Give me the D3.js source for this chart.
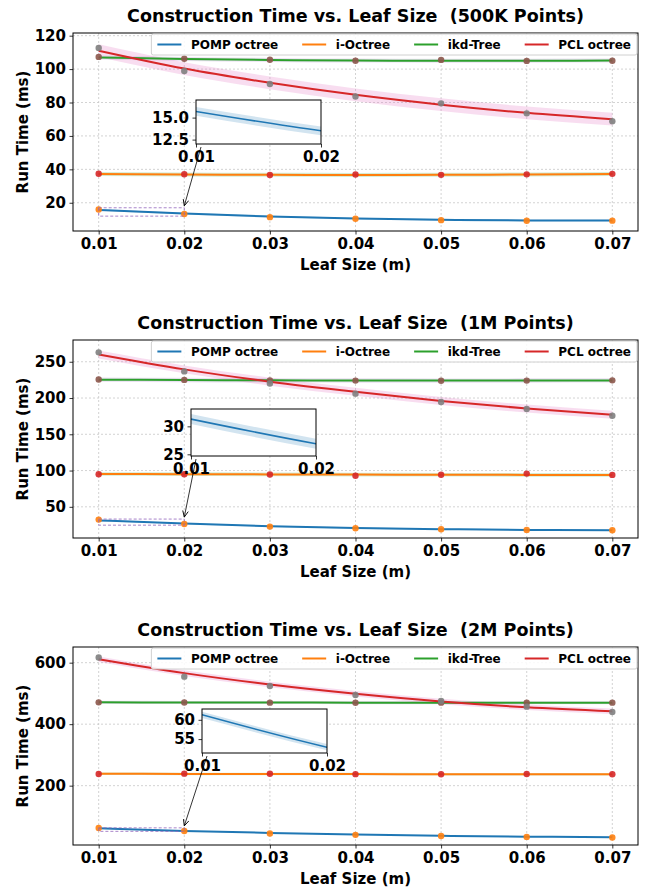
<!DOCTYPE html>
<html>
<head>
<meta charset="utf-8">
<script src="https://cdn.jsdelivr.net/npm/d3@7"></script>
<style>
  body { margin: 0; background: #fff; }
  svg text { font-family: "DejaVu Sans", sans-serif; font-weight: bold; fill: #000; white-space: pre; }
</style>
</head>
<body>
<div id="chart"></div>
<script>
// ---- data ----
const leafSizes = [0.01, 0.02, 0.03, 0.04, 0.05, 0.06, 0.07];
const seriesNames = ["POMP octree", "i-Octree", "ikd-Tree", "PCL octree"];

// 500K points: measured points and fitted curve
const pomp500kPts = [16.0, 13.3, 11.4, 10.4, 9.6, 9.2, 9.3];
const pomp500kFit = [15.7, 13.5, 11.8, 10.6, 9.8, 9.4, 9.4];
const iOct500kPts = [37.4, 37.1, 36.6, 36.9, 36.7, 37.0, 37.3];
const iOct500kFit = [37.2, 36.9, 36.7, 36.6, 36.7, 36.9, 37.2];
const ikd500kPts = [107.3, 106.2, 105.6, 105.0, 105.5, 104.9, 105.0];
const ikd500kFit = [107.0, 106.1, 105.5, 105.1, 105.0, 105.0, 105.1];
const pcl500kPts = [112.6, 98.9, 91.1, 83.6, 79.5, 73.5, 68.8];
const pcl500kFit = [111.0, 100.3, 91.8, 84.6, 78.7, 73.8, 70.0];
const band500k = [0.5, 1.2, 1.2, 3.8];

// 1M points
const pomp1mPts = [32.4, 26.2, 22.7, 20.5, 19.0, 18.2, 17.6];
const pomp1mFit = [31.3, 26.9, 23.3, 20.8, 19.2, 18.1, 17.6];
const iOct1mPts = [95.0, 95.0, 94.5, 92.8, 94.2, 95.8, 94.0];
const iOct1mFit = [95.2, 95.0, 94.7, 94.4, 94.2, 94.0, 93.8];
const ikd1mPts = [225.5, 225.0, 224.2, 224.0, 223.8, 224.0, 224.4];
const ikd1mFit = [225.3, 224.8, 224.4, 224.1, 224.0, 224.1, 224.3];
const pcl1mPts = [263.0, 236.7, 220.0, 206.0, 194.5, 185.0, 175.5];
const pcl1mFit = [260.0, 239.5, 222.5, 208.5, 196.0, 185.5, 177.0];
const band1m = [0.9, 2.5, 3.0, 5.5];

// 2M points
const pomp2mPts = [62.5, 52.5, 44.5, 40.0, 36.4, 33.3, 31.6];
const pomp2mFit = [61.3, 52.9, 46.2, 41.0, 37.0, 34.2, 32.5];
const iOct2mPts = [238.0, 239.0, 238.5, 237.5, 237.0, 238.0, 237.0];
const iOct2mFit = [238.5, 238.2, 237.9, 237.6, 237.4, 237.3, 237.2];
const ikd2mPts = [471.0, 470.5, 470.0, 469.5, 470.0, 470.0, 470.0];
const ikd2mFit = [471.0, 470.6, 470.3, 470.0, 469.8, 469.7, 469.7];
const pcl2mPts = [617.0, 554.5, 524.0, 495.0, 475.5, 457.0, 439.7];
const pcl2mFit = [611.0, 566.0, 529.0, 499.0, 474.0, 455.0, 442.0];
const band2m = [0.8, 4.0, 5.0, 9.0];

// axis ticks
const yTicks500k = [20, 40, 60, 80, 100, 120];
const yTicks1m = [50, 100, 150, 200, 250];
const yTicks2m = [200, 400, 600];
const insetTicks500k = [12.5, 15.0];
const insetTicks1m = [25, 30];
const insetTicks2m = [55, 60];

// ---- styles ----
const lineColors = ["#1f77b4", "#ff7f0e", "#2ca02c", "#d62728"];
const dotColors = ["#ff7f0e", "#d62728", "#8c564b", "#7f7f7f"];
const bandColors = ["#1f77b4", "#2ca02c", "#9467bd", "#e377c2"];

const W = 649, H = 888;
const plotLeft = 73, plotW = 565, plotH = 198;
const tickFont = "15px", labelFont = "15px", titleFont = "17.5px";

const panels = [
  {
    title: "Construction Time vs. Leaf Size  (500K Points)", top: 33,
    yDomain: [3.1, 121.6], yTicks: yTicks500k,
    pts: [pomp500kPts, iOct500kPts, ikd500kPts, pcl500kPts],
    fit: [pomp500kFit, iOct500kFit, ikd500kFit, pcl500kFit],
    band: band500k,
    inset: { x: 123, y: 67, w: 125, h: 44, yDomain: [12.0, 17.0], ticks: insetTicks500k, fmt: ".1f" }
  },
  {
    title: "Construction Time vs. Leaf Size  (1M Points)", top: 340,
    yDomain: [7, 280], yTicks: yTicks1m,
    pts: [pomp1mPts, iOct1mPts, ikd1mPts, pcl1mPts],
    fit: [pomp1mFit, iOct1mFit, ikd1mFit, pcl1mFit],
    band: band1m,
    inset: { x: 118, y: 69, w: 125, h: 47, yDomain: [24.7, 33.1], ticks: insetTicks1m, fmt: "d" }
  },
  {
    title: "Construction Time vs. Leaf Size  (2M Points)", top: 647,
    yDomain: [7, 651], yTicks: yTicks2m,
    pts: [pomp2mPts, iOct2mPts, ikd2mPts, pcl2mPts],
    fit: [pomp2mFit, iOct2mFit, ikd2mFit, pcl2mFit],
    band: band2m,
    inset: { x: 129, y: 62, w: 125, h: 44, yDomain: [51.4, 62.8], ticks: insetTicks2m, fmt: "d" }
  }
];

const svg = d3.select("#chart").append("svg")
  .attr("width", W)
  .attr("height", H);

const defs = svg.append("defs");
defs.append("marker")
  .attr("id", "arrowhead")
  .attr("viewBox", "0 0 8 8")
  .attr("refX", 7.5).attr("refY", 4)
  .attr("markerWidth", 7).attr("markerHeight", 7)
  .attr("markerUnits", "userSpaceOnUse")
  .attr("orient", "auto")
  .append("path")
  .attr("d", "M0.5,0.8 L7.5,4 L0.5,7.2")
  .attr("fill", "none")
  .attr("stroke", "#000")
  .attr("stroke-width", 1);

panels.forEach((p, pi) => drawPanel(p, pi));

function styleAxis(a) {
  a.select(".domain").remove();
  a.selectAll("text").style("font-size", tickFont).style("font-family", "DejaVu Sans").style("font-weight", "bold");
  a.selectAll("line").attr("stroke", "#000").attr("stroke-width", 0.8);
}

function drawPanel(p, pi) {
  const g = svg.append("g").attr("transform", `translate(${plotLeft},${p.top})`);

  const x = d3.scaleLinear().domain([0.007, 0.073]).range([0, plotW]);
  const y = d3.scaleLinear().domain(p.yDomain).range([plotH, 0]);

  // grid
  g.append("g").selectAll("line").data(leafSizes).join("line")
    .attr("x1", d => x(d)).attr("x2", d => x(d))
    .attr("y1", 0).attr("y2", plotH)
    .attr("stroke", "#c8c8c8").attr("stroke-width", 0.8).attr("stroke-dasharray", "2,2");
  g.append("g").selectAll("line").data(p.yTicks).join("line")
    .attr("x1", 0).attr("x2", plotW)
    .attr("y1", d => y(d)).attr("y2", d => y(d))
    .attr("stroke", "#c8c8c8").attr("stroke-width", 0.8).attr("stroke-dasharray", "2,2");

  // clip
  const clipId = `clip${pi}`;
  defs.append("clipPath").attr("id", clipId)
    .append("rect").attr("width", plotW).attr("height", plotH);
  const plot = g.append("g").attr("clip-path", `url(#${clipId})`);

  const area = (hw) => d3.area()
    .x((d, i) => x(leafSizes[i]))
    .y0(d => y(d - hw))
    .y1(d => y(d + hw))
    .curve(d3.curveMonotoneX);
  const line = d3.line()
    .x((d, i) => x(leafSizes[i]))
    .y(d => y(d))
    .curve(d3.curveMonotoneX);

  // confidence bands
  p.fit.forEach((f, si) => {
    plot.append("path").datum(f)
      .attr("d", area(p.band[si]))
      .attr("fill", bandColors[si])
      .attr("fill-opacity", si === 3 ? 0.25 : 0.2);
  });
  // fitted lines
  p.fit.forEach((f, si) => {
    plot.append("path").datum(f)
      .attr("d", line)
      .attr("fill", "none")
      .attr("stroke", lineColors[si])
      .attr("stroke-width", 2);
  });
  // measured points
  p.pts.forEach((vals, si) => {
    plot.append("g").selectAll("circle").data(vals).join("circle")
      .attr("cx", (d, i) => x(leafSizes[i]))
      .attr("cy", d => y(d))
      .attr("r", 3.2)
      .attr("fill", dotColors[si])
      .attr("fill-opacity", 0.9);
  });

  // zoom region marker
  const ins = p.inset;
  g.append("rect")
    .attr("x", x(0.01)).attr("y", y(ins.yDomain[1]))
    .attr("width", x(0.02) - x(0.01))
    .attr("height", y(ins.yDomain[0]) - y(ins.yDomain[1]))
    .attr("fill", "none")
    .attr("stroke", "#9467bd").attr("stroke-opacity", 0.8)
    .attr("stroke-width", 1).attr("stroke-dasharray", "3,2");

  // axes
  styleAxis(g.append("g")
    .attr("transform", `translate(0,${plotH})`)
    .call(d3.axisBottom(x).tickValues(leafSizes).tickFormat(d3.format(".2f"))
      .tickSize(3.5).tickPadding(3.5).tickSizeOuter(0)));
  styleAxis(g.append("g")
    .call(d3.axisLeft(y).tickValues(p.yTicks).tickFormat(d3.format("d"))
      .tickSize(3.5).tickPadding(3.5).tickSizeOuter(0)));

  // frame
  g.append("rect")
    .attr("width", plotW).attr("height", plotH)
    .attr("fill", "none").attr("stroke", "#000").attr("stroke-width", 1);

  // inset
  const ig = g.append("g").attr("transform", `translate(${ins.x},${ins.y})`);
  const ix = d3.scaleLinear().domain([0.01, 0.02]).range([0, ins.w]);
  const iy = d3.scaleLinear().domain(ins.yDomain).range([ins.h, 0]);
  ig.append("rect").attr("width", ins.w).attr("height", ins.h).attr("fill", "#fff");
  const iclip = `iclip${pi}`;
  defs.append("clipPath").attr("id", iclip)
    .append("rect").attr("width", ins.w).attr("height", ins.h);
  const ip = ig.append("g").attr("clip-path", `url(#${iclip})`);
  ip.append("path").datum(p.fit[0])
    .attr("d", d3.area()
      .x((d, i) => ix(leafSizes[i]))
      .y0(d => iy(d - p.band[0]))
      .y1(d => iy(d + p.band[0]))
      .curve(d3.curveMonotoneX))
    .attr("fill", bandColors[0]).attr("fill-opacity", 0.2);
  ip.append("path").datum(p.fit[0])
    .attr("d", d3.line()
      .x((d, i) => ix(leafSizes[i]))
      .y(d => iy(d))
      .curve(d3.curveMonotoneX))
    .attr("fill", "none").attr("stroke", lineColors[0]).attr("stroke-width", 1.6);
  styleAxis(ig.append("g").attr("transform", `translate(0,${ins.h})`)
    .call(d3.axisBottom(ix).tickValues([0.01, 0.02]).tickFormat(d3.format(".2f"))
      .tickSize(3.5).tickPadding(3.5).tickSizeOuter(0)));
  styleAxis(ig.append("g")
    .call(d3.axisLeft(iy).tickValues(ins.ticks).tickFormat(d3.format(ins.fmt))
      .tickSize(3.5).tickPadding(3.5).tickSizeOuter(0)));
  ig.append("rect").attr("width", ins.w).attr("height", ins.h)
    .attr("fill", "none").attr("stroke", "#000").attr("stroke-width", 1);

  // arrow from inset to zoomed region
  g.append("line")
    .attr("x1", ins.x + 5).attr("y1", ins.y + ins.h + 3)
    .attr("x2", x(0.02)).attr("y2", y(ins.yDomain[1]) - 2)
    .attr("stroke", "#000").attr("stroke-width", 0.8)
    .attr("marker-end", "url(#arrowhead)");

  // legend
  const lg = g.append("g").attr("transform", `translate(${plotW - 1},1)`);
  const lbox = lg.append("rect")
    .attr("fill", "#fff").attr("fill-opacity", 0.85)
    .attr("stroke", "#d0d0d0").attr("stroke-width", 1)
    .attr("rx", 2);
  const fs = 12;
  const items = [];
  seriesNames.forEach((name, si) => {
    const it = lg.append("g");
    it.append("line").attr("x1", 0).attr("x2", 2 * fs).attr("y1", 0).attr("y2", 0)
      .attr("stroke", lineColors[si]).attr("stroke-width", 2);
    const t = it.append("text").attr("x", 2.8 * fs).attr("dy", "0.35em")
      .style("font-size", fs + "px").text(name);
    items.push({ g: it, w: 2.8 * fs + t.node().getComputedTextLength() });
  });
  const totalW = d3.sum(items, d => d.w) + 2 * fs * (items.length - 1) + fs;
  const lh = 21;
  let cx = -totalW + 0.5 * fs;
  items.forEach(it => {
    it.g.attr("transform", `translate(${cx},${lh / 2})`);
    cx += it.w + 2 * fs;
  });
  lbox.attr("x", -totalW).attr("y", 0).attr("width", totalW).attr("height", lh);

  // title and labels
  g.append("text")
    .attr("x", plotW / 2).attr("y", -11)
    .attr("text-anchor", "middle")
    .style("font-size", titleFont)
    .text(p.title);
  g.append("text")
    .attr("x", plotW / 2).attr("y", plotH + 39)
    .attr("text-anchor", "middle")
    .style("font-size", labelFont)
    .text("Leaf Size (m)");
  g.append("text")
    .attr("transform", "rotate(-90)")
    .attr("x", -plotH / 2).attr("y", 28 - plotLeft)
    .attr("text-anchor", "middle")
    .style("font-size", labelFont)
    .text("Run Time (ms)");
}
</script>
</body>
</html>
